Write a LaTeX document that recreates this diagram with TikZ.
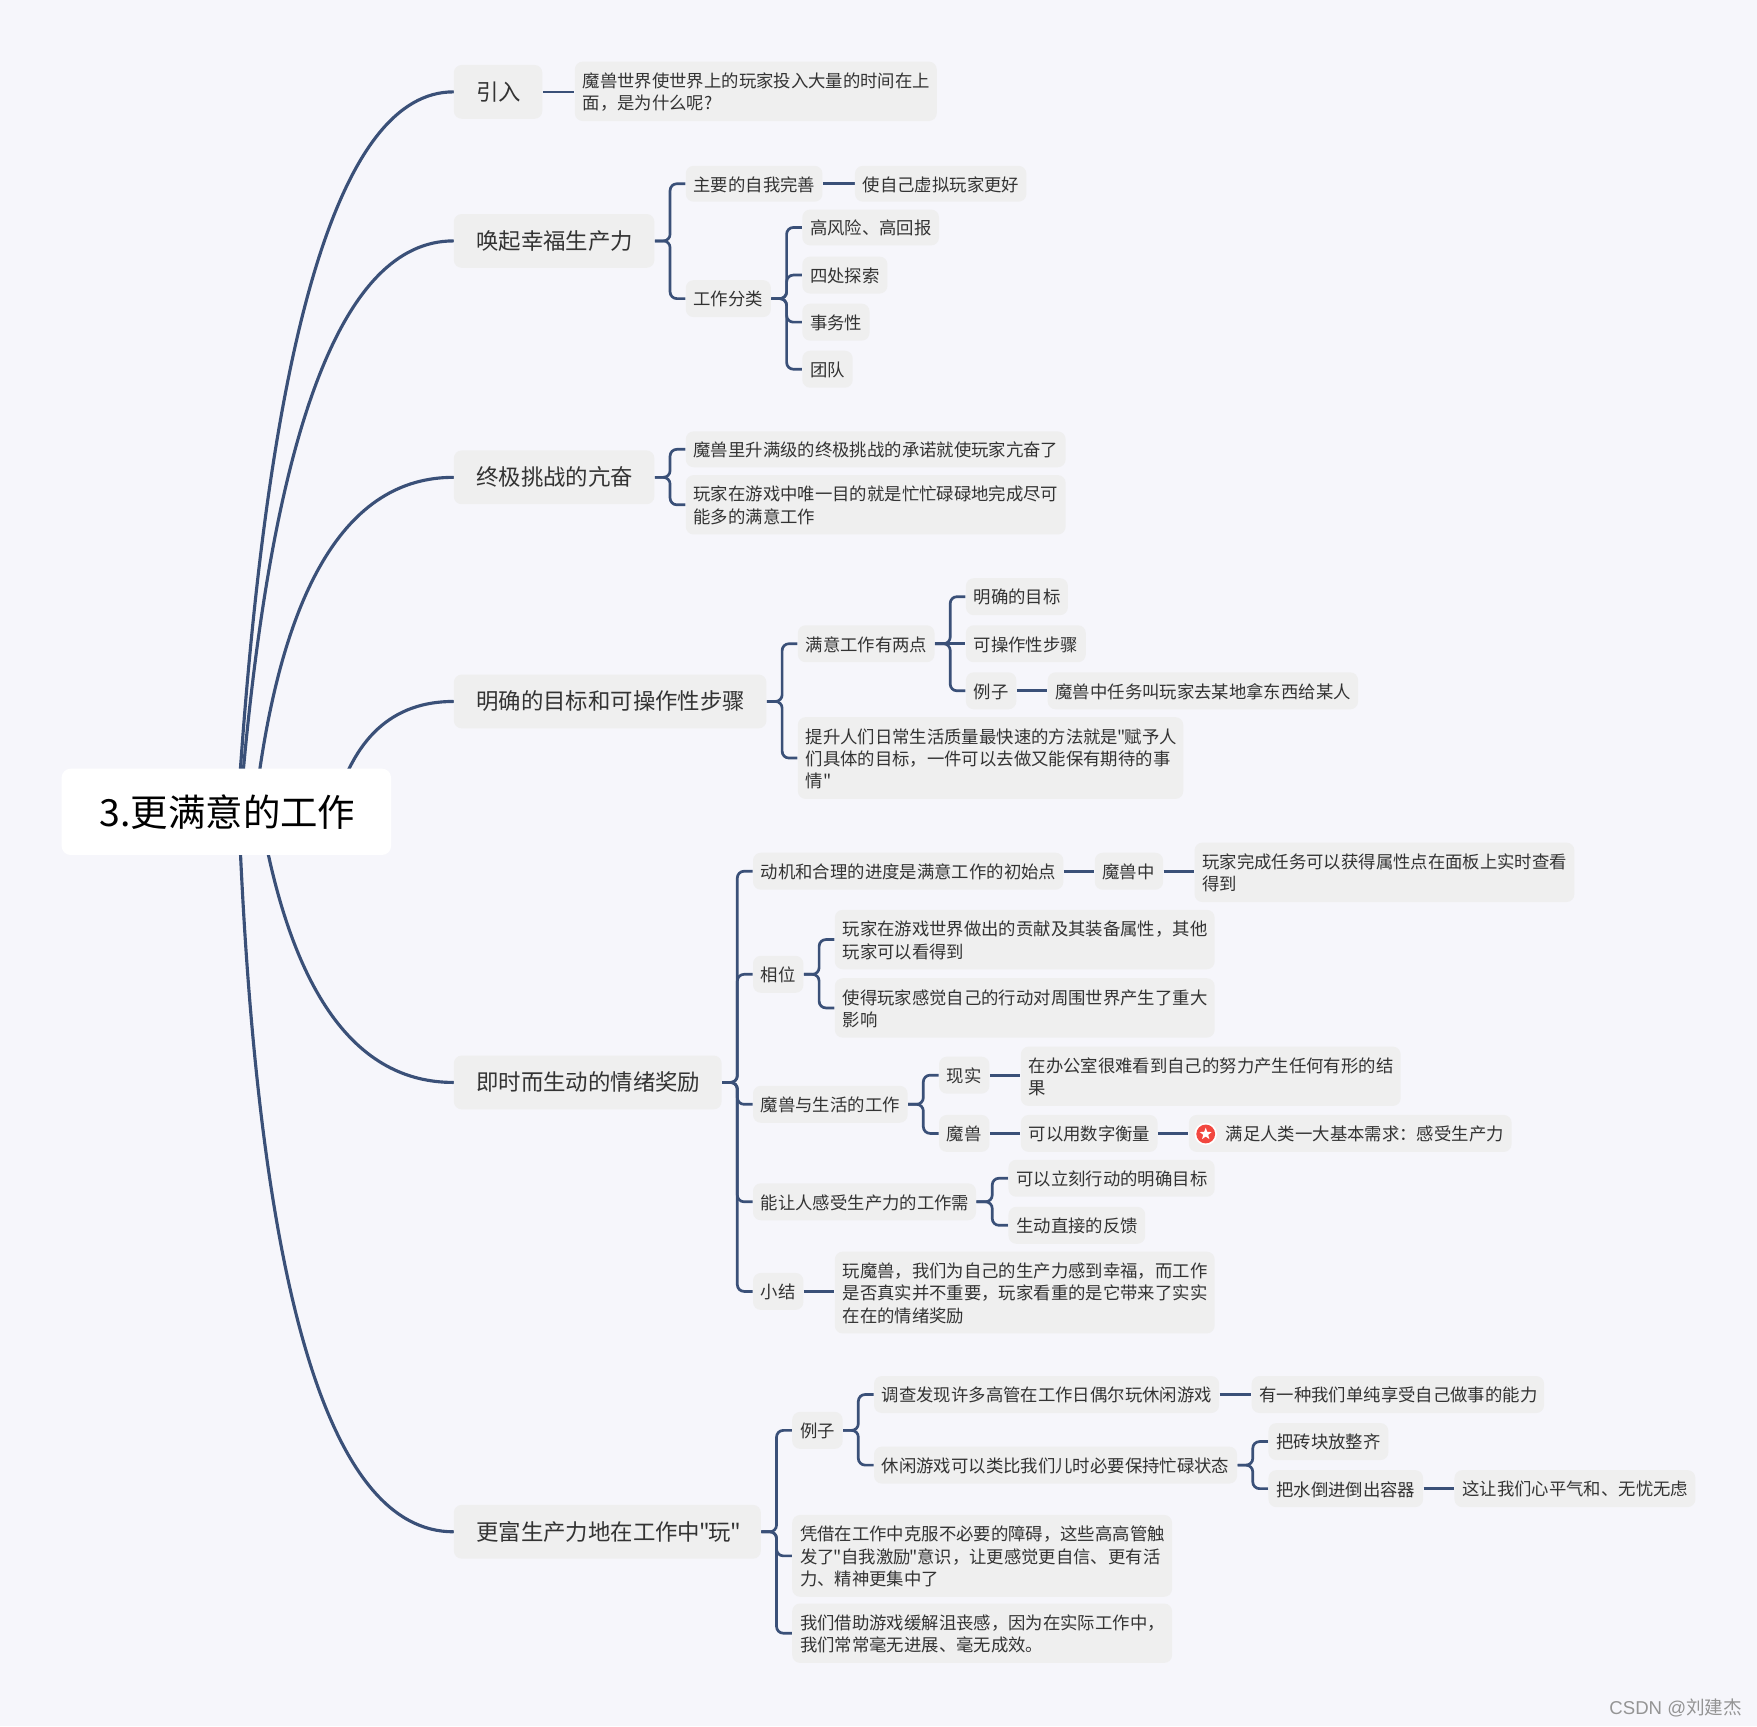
\documentclass[tikz,border=0pt]{standalone}
\usepackage{fontspec}
\newfontfamily\cjkf{Noto Sans CJK SC}
\newfontfamily\latf{Liberation Sans}
\usetikzlibrary{calc,shapes.geometric}
\pgfdeclarelayer{back}
\pgfsetlayers{back,main}
\definecolor{bgc}{HTML}{F6F6FB}
\definecolor{boxc}{HTML}{EFEFEF}
\definecolor{linec}{HTML}{3A5078}
\definecolor{txtc}{HTML}{333333}
\definecolor{starc}{HTML}{F2473F}
\tikzset{
  x=0.5pt,y=-0.5pt,
  smallbox/.style={fill=boxc,rounded corners=3.5pt,inner ysep=0pt,inner xsep=3.5pt,align=left,text=txtc,font=\cjkf\fontsize{7.75}{10}\selectfont},
  bigbox/.style={fill=boxc,rounded corners=3.5pt,inner ysep=0pt,inner xsep=10pt,align=left,text=txtc,font=\cjkf\fontsize{10}{12}\selectfont},
  rootbox/.style={fill=white,rounded corners=4pt,inner sep=0pt,align=center,text=black,font=\cjkf\fontsize{16.7}{20}\selectfont},
  con/.style={draw=linec,line width=1.2pt},
  mainline/.style={draw=linec,line width=1.4pt,line cap=round},
}
\newcommand{\qq}{\kern-.05em"\kern-.05em}
\newcommand{\bx}[6]{%
  \pgfmathsetmacro{\cxx}{(#2+#4)/2}\pgfmathsetmacro{\cyy}{(#3+#5)/2}%
  \pgfmathsetmacro{\tw}{(#4-#2)/2-7}\pgfmathsetmacro{\hh}{(#5-#3)/2}%
  \node[smallbox,text width=\tw pt,minimum height=\hh pt] (#1) at (\cxx,\cyy) {\rule{0pt}{7.2pt}#6};}
\newcommand{\bxl}[6]{%
  \pgfmathsetmacro{\cxx}{(#2+#4)/2}\pgfmathsetmacro{\cyy}{(#3+#5)/2}%
  \pgfmathsetmacro{\tw}{(#4-#2)/2-20}\pgfmathsetmacro{\hh}{(#5-#3)/2}%
  \node[bigbox,text width=\tw pt,minimum height=\hh pt] (#1) at (\cxx,\cyy) {#6};}
\newcommand{\br}[2]{%
  \coordinate (mm) at ($(#1.east)!.5!(#2.west)$);
  \draw[con,rounded corners=3pt] (#1.east) -- (mm|-#1.east) -- (mm|-#2.west) -- (#2.west);}
\newcommand{\st}[2]{\draw[con] (#1.east) -- (#1.east-|#2.west);}
\newcommand{\ml}[3]{%
  \coordinate (oo) at (#2,724);
  \coordinate (cc) at (#3,0|-#1.west);
  \draw[mainline] (oo) .. controls ($(oo)!2/3!(cc)$) and ($(#1.west)!2/3!(cc)$) .. (#1.west);}
\begin{document}
\begin{tikzpicture}
\begin{pgfonlayer}{back}
\fill[bgc] (0,0) rectangle (1568,1540.4);
\end{pgfonlayer}
\useasboundingbox (0,0) rectangle (1568,1540.4);

\node[rootbox,minimum width=147pt,minimum height=38.5pt] (root) at (202,724.5) {\hspace*{1pt}3.更满意的工作};

\bxl{a}{405}{58}{484}{106}{引入}
\bxl{b}{405}{191}{584}{239}{唤起幸福生产力}
\bxl{c}{405}{402}{584}{450}{终极挑战的亢奋}
\bxl{d}{405}{602}{684}{650}{明确的目标和可操作性步骤}
\bxl{e}{405}{942}{644}{990}{即时而生动的情绪奖励}
\bxl{f}{405}{1343}{679}{1391}{更富生产力地在工作中\qq 玩\qq}

\bx{a1}{513}{55}{836}{108}{魔兽世界使世界上的玩家投入大量的时间在上\\面，是为什么呢?}
\bx{b1}{612}{148}{734}{180}{主要的自我完善}
\bx{b11}{763}{148}{916}{180}{使自己虚拟玩家更好}
\bx{b2}{612}{250}{688}{283}{工作分类}
\bx{b21}{716}{187}{838}{219}{高风险、高回报}
\bx{b22}{716}{229}{792}{262}{四处探索}
\bx{b23}{716}{271}{776}{304}{事务性}
\bx{b24}{716}{313}{761}{346}{团队}
\bx{c1}{612}{385}{951}{417}{魔兽里升满级的终极挑战的承诺就使玩家亢奋了}
\bx{c2}{612}{424}{951}{477}{玩家在游戏中唯一目的就是忙忙碌碌地完成尽可\\能多的满意工作}
\bx{d1}{712}{558}{834}{591}{满意工作有两点}
\bx{d11}{862}{516}{953}{549}{明确的目标}
\bx{d12}{862}{558}{969}{591}{可操作性步骤}
\bx{d13}{862}{600}{907}{633}{例子}
\bx{d131}{935}{600}{1212}{633}{魔兽中任务叫玩家去某地拿东西给某人}
\bx{d2}{712}{640}{1056}{713}{提升人们日常生活质量最快速的方法就是\qq 赋予人\\们具体的目标，一件可以去做又能保有期待的事\\情"}
\bx{e1}{672}{761}{949}{794}{动机和合理的进度是满意工作的初始点}
\bx{e11}{977}{761}{1038}{794}{魔兽中}
\bx{e111}{1066}{752}{1405}{805}{玩家完成任务可以获得属性点在面板上实时查看\\得到}
\bx{e2}{672}{853}{717}{886}{相位}
\bx{e21}{745}{812}{1084}{865}{玩家在游戏世界做出的贡献及其装备属性，其他\\玩家可以看得到}
\bx{e22}{745}{873}{1084}{926}{使得玩家感觉自己的行动对周围世界产生了重大\\影响}
\bx{e3}{672}{969}{810}{1002}{魔兽与生活的工作}
\bx{e31}{838}{943}{883}{976}{现实}
\bx{e311}{911}{934}{1250}{987}{在办公室很难看到自己的努力产生任何有形的结\\果}
\bx{e32}{838}{995}{883}{1028}{魔兽}
\bx{e321}{911}{995}{1033}{1028}{可以用数字衡量}
\bx{e322}{1061}{995}{1349}{1028}{\hspace*{13pt}满足人类一大基本需求：感受生产力}
\node[circle,fill=white,minimum size=10pt,inner sep=0pt] (ring) at (1076,1012) {};
\node[circle,fill=starc,minimum size=8.4pt,inner sep=0pt] (disc) at (1076,1012) {};
\node[star,star points=5,star point ratio=2.4,fill=white,minimum size=5.6pt,inner sep=0pt] (starmark) at (1076,1012) {};
\bx{e4}{672}{1056}{871}{1089}{能让人感受生产力的工作需}
\bx{e41}{900}{1035}{1084}{1068}{可以立刻行动的明确目标}
\bx{e42}{900}{1077}{1022}{1110}{生动直接的反馈}
\bx{e5}{672}{1136}{717}{1169}{小结}
\bx{e51}{745}{1117}{1084}{1190}{玩魔兽，我们为自己的生产力感到幸福，而工作\\是否真实并不重要，玩家看重的是它带来了实实\\在在的情绪奖励}
\bx{f1}{707}{1260}{752}{1293}{例子}
\bx{f11}{780}{1228}{1088}{1261}{调查发现许多高管在工作日偶尔玩休闲游戏}
\bx{f111}{1117}{1228}{1378}{1261}{有一种我们单纯享受自己做事的能力}
\bx{f12}{780}{1291}{1104}{1324}{休闲游戏可以类比我们儿时必要保持忙碌状态}
\bx{f121}{1132}{1270}{1239}{1303}{把砖块放整齐}
\bx{f122}{1132}{1312}{1270}{1345}{把水倒进倒出容器}
\bx{f1221}{1298}{1312}{1513}{1345}{这让我们心平气和、无忧无虑}
\bx{f2}{707}{1352}{1046}{1425}{凭借在工作中克服不必要的障碍，这些高高管触\\发了\qq 自我激励\qq 意识，让更感觉更自信、更有活\\力、精神更集中了}
\bx{f3}{707}{1431}{1046}{1484}{我们借助游戏缓解沮丧感，因为在实际工作中，\\我们常常毫无进展、毫无成效。}

\node[anchor=east,inner sep=0pt,text=black!42,font=\fontsize{8.3}{10}\selectfont] (mark) at (1555,1524) {\latf CSDN @\cjkf 刘建杰};

\begin{pgfonlayer}{back}
\ml{a}{212}{253}
\ml{b}{214}{255}
\ml{c}{227}{261}
\ml{d}{298}{323}
\ml{e}{232}{273}
\ml{f}{213}{238}
\st{a}{a1}
\br{b}{b1} \br{b}{b2}
\st{b1}{b11}
\br{b2}{b21} \br{b2}{b22} \br{b2}{b23} \br{b2}{b24}
\br{c}{c1} \br{c}{c2}
\br{d}{d1} \br{d}{d2}
\br{d1}{d11} \st{d1}{d12} \br{d1}{d13}
\st{d13}{d131}
\br{e}{e1} \br{e}{e2} \br{e}{e3} \br{e}{e4} \br{e}{e5}
\st{e1}{e11} \st{e11}{e111}
\br{e2}{e21} \br{e2}{e22}
\br{e3}{e31} \br{e3}{e32}
\st{e31}{e311} \st{e32}{e321} \st{e321}{e322}
\br{e4}{e41} \br{e4}{e42}
\st{e5}{e51}
\br{f}{f1} \br{f}{f2} \br{f}{f3}
\br{f1}{f11} \br{f1}{f12}
\st{f11}{f111}
\br{f12}{f121} \br{f12}{f122}
\st{f122}{f1221}
\end{pgfonlayer}
\end{tikzpicture}
\end{document}
